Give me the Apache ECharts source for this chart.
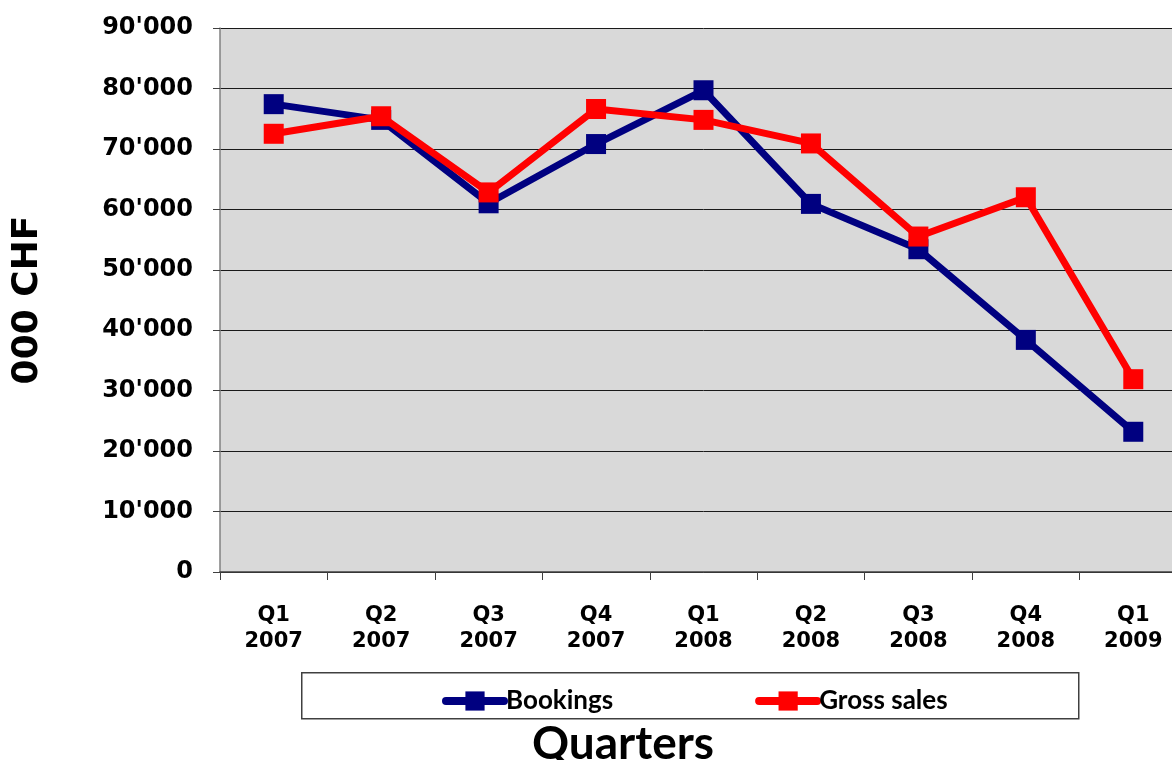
<!DOCTYPE html>
<html>
<head>
<meta charset="utf-8">
<script src="https://cdn.jsdelivr.net/npm/echarts@6/dist/echarts.min.js"></script>
<style>
html,body{margin:0;padding:0;background:#fff;overflow:hidden;width:1172px;height:760px;}
#c{width:1190px;height:760px;}
</style>
</head>
<body>
<div id="c"></div>
<script>
var categories = ['Q1\n2007','Q2\n2007','Q3\n2007','Q4\n2007','Q1\n2008','Q2\n2008','Q3\n2008','Q4\n2008','Q1\n2009'];
var bookings = [77400, 74800, 61000, 70800, 79700, 60900, 53400, 38400, 23200];
var grossSales = [72500, 75400, 62800, 76600, 74800, 70900, 55500, 62000, 31900];
var yTicks = [0, 10000, 20000, 30000, 40000, 50000, 60000, 70000, 80000, 90000];

function fmt(v){
  var s = String(Math.round(v));
  return s.replace(/\B(?=(\d{3})+(?!\d))/g, "'");
}

var chart = echarts.init(document.getElementById('c'), null, {renderer:'canvas'});
chart.setOption({
  animation:false,
  backgroundColor:'#ffffff',
  grid:{left:220, top:28, width:967, height:544, show:true, backgroundColor:'#d9d9d9', borderWidth:0},
  xAxis:{
    type:'category', data:categories, boundaryGap:true,
    axisLine:{lineStyle:{color:'#404040', width:1.5}},
    axisTick:{show:true, length:8, lineStyle:{color:'#404040'}},
    axisLabel:{fontFamily:'DejaVu Sans', fontWeight:'bold', fontSize:21, color:'#000', margin:31, lineHeight:26, interval:0}
  },
  yAxis:{
    type:'value', min:yTicks[0], max:yTicks[yTicks.length-1], interval:10000,
    name:'000 CHF', nameLocation:'middle', nameGap:174, nameRotate:90,
    nameTextStyle:{fontFamily:'DejaVu Sans', fontWeight:'bold', fontSize:36, color:'#000'},
    axisLine:{show:true, lineStyle:{color:'#808080', width:1.5}},
    axisTick:{show:true, length:7, lineStyle:{color:'#404040'}},
    axisLabel:{fontFamily:'DejaVu Sans', fontWeight:'bold', fontSize:24, color:'#000', margin:27, formatter:fmt},
    splitLine:{show:true, lineStyle:{color:'#1a1a1a', width:1}}
  },
  legend:{
    left:437, top:683, itemWidth:58, itemHeight:24, itemGap:142,
    lineStyle:{width:8, cap:'round'},
    textStyle:{fontFamily:'Lato', fontWeight:'bold', fontSize:26, color:'#000', padding:[0,0,0,-3]},
    data:['Bookings','Gross sales']
  },
  graphic:[
    {type:'rect', left:301, top:672, z:-1, shape:{width:777, height:46}, style:{fill:'#fff', stroke:'#404040', lineWidth:1.5}},
    {type:'text', x:623, y:744, style:{text:'Quarters', align:'center', verticalAlign:'middle', fontFamily:'Lato', fontWeight:'bold', fontSize:46, fill:'#000'}}
  ],
  series:[
    {name:'Bookings', type:'line', data:bookings, symbol:'rect', symbolSize:20,
     lineStyle:{color:'#000080', width:7}, itemStyle:{color:'#000080'}, z:2},
    {name:'Gross sales', type:'line', data:grossSales, symbol:'rect', symbolSize:20,
     lineStyle:{color:'#ff0000', width:7}, itemStyle:{color:'#ff0000'}, z:3}
  ]
});
</script>
</body>
</html>
